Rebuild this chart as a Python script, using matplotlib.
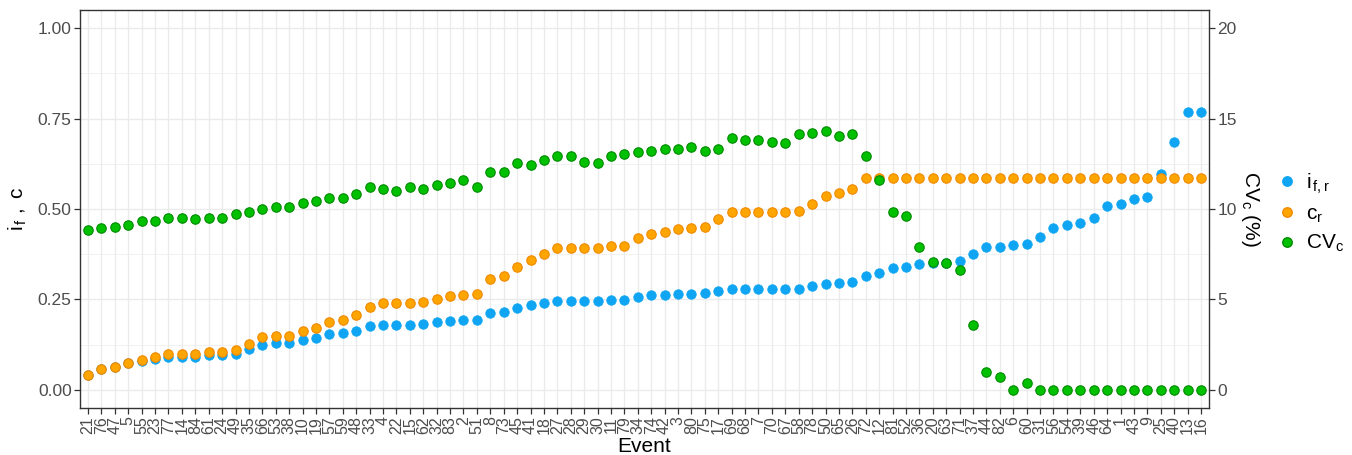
import matplotlib
matplotlib.use('Agg')
import matplotlib.pyplot as plt
from matplotlib.lines import Line2D
import numpy as np

plt.rc('font', family=['Liberation Sans', 'DejaVu Sans'])
plt.rc('mathtext', fontset='custom', rm='Liberation Sans', it='Liberation Sans', bf='Liberation Sans')

# events in plotting order
events = ['21', '76', '47', '5', '55', '23', '77', '14', '84', '61',
          '24', '49', '35', '66', '53', '38', '10', '19', '57', '59',
          '48', '33', '4', '22', '15', '62', '32', '83', '2', '51',
          '8', '73', '45', '41', '18', '27', '28', '29', '30', '11',
          '79', '34', '74', '42', '3', '80', '75', '17', '69', '68',
          '7', '70', '67', '58', '78', '50', '65', '26', '72', '12',
          '81', '52', '36', '20', '63', '71', '37', '44', '82', '6',
          '60', '31', '56', '54', '39', '46', '64', '1', '43', '9',
          '25', '40', '13', '16']

# i_f,r (left axis)
i_f = [0.041, 0.057, 0.063, 0.073, 0.079, 0.085, 0.092, 0.092, 0.092, 0.096,
       0.096, 0.099, 0.114, 0.125, 0.129, 0.129, 0.137, 0.143, 0.154, 0.157,
       0.164, 0.176, 0.180, 0.180, 0.180, 0.182, 0.188, 0.191, 0.193, 0.193,
       0.213, 0.216, 0.227, 0.235, 0.241, 0.246, 0.246, 0.246, 0.246, 0.249,
       0.249, 0.256, 0.261, 0.263, 0.265, 0.266, 0.267, 0.274, 0.280, 0.280,
       0.280, 0.280, 0.280, 0.280, 0.286, 0.293, 0.296, 0.297, 0.314, 0.323,
       0.337, 0.339, 0.349, 0.352, 0.352, 0.357, 0.375, 0.394, 0.396, 0.401,
       0.402, 0.422, 0.448, 0.456, 0.460, 0.476, 0.508, 0.513, 0.528, 0.533,
       0.597, 0.686, 0.769, 0.769]

# c_r (left axis)
c_r = [0.040, 0.057, 0.063, 0.073, 0.083, 0.090, 0.099, 0.099, 0.099, 0.104,
       0.104, 0.109, 0.128, 0.146, 0.149, 0.149, 0.163, 0.172, 0.188, 0.193,
       0.207, 0.228, 0.240, 0.240, 0.240, 0.243, 0.252, 0.259, 0.262, 0.264,
       0.306, 0.316, 0.339, 0.360, 0.377, 0.391, 0.391, 0.391, 0.391, 0.399,
       0.399, 0.419, 0.431, 0.436, 0.446, 0.447, 0.450, 0.473, 0.493, 0.493,
       0.493, 0.493, 0.493, 0.494, 0.515, 0.536, 0.545, 0.555, 0.587, 0.587,
       0.587, 0.587, 0.587, 0.587, 0.587, 0.587, 0.587, 0.587, 0.587, 0.587,
       0.587, 0.587, 0.587, 0.587, 0.587, 0.587, 0.587, 0.587, 0.587, 0.587,
       0.587, 0.587, 0.587, 0.587]

# CV_c in % (right axis)
cv_c = [8.84, 8.93, 9.02, 9.12, 9.34, 9.34, 9.52, 9.52, 9.43, 9.52,
        9.52, 9.72, 9.82, 10.02, 10.11, 10.11, 10.31, 10.43, 10.62, 10.62,
        10.83, 11.22, 11.10, 11.01, 11.22, 11.12, 11.33, 11.44, 11.62, 11.22,
        12.03, 12.03, 12.52, 12.41, 12.72, 12.93, 12.93, 12.61, 12.52, 12.93,
        13.04, 13.13, 13.22, 13.31, 13.31, 13.43, 13.22, 13.31, 13.92, 13.81,
        13.81, 13.72, 13.63, 14.13, 14.22, 14.33, 14.03, 14.13, 12.93, 11.60,
        9.82, 9.61, 7.92, 7.09, 7.00, 6.61, 3.61, 1.01, 0.72, 0.00,
        0.40, 0.00, 0.00, 0.00, 0.00, 0.00, 0.00, 0.00, 0.00, 0.00,
        0.00, 0.00, 0.00, 0.00]

blue = '#0FA5F2'
orange = '#FFA500'
orange_edge = '#F08A00'
green = '#00C000'
green_edge = '#008A00'
ms = 6.8

fig = plt.figure(figsize=(13.52, 4.55), dpi=100)
ax = fig.add_axes([80/1352, 1-408/455, 1129/1352, 398/455])
x = np.arange(len(events))

ax.plot(x, i_f, 'o', ms=ms, color=blue, mec=blue, mew=0.6, zorder=3)
ax.plot(x, c_r, 'o', ms=ms, color=orange, mec=orange_edge, mew=0.8, zorder=4)

ax.set_xlim(-0.6, len(events) - 0.4)
ax.set_ylim(-0.05, 1.05)
ax.set_xticks(x)
ax.set_xticklabels(events, rotation=90, fontsize=11.5, color='#4D4D4D')
ax.set_yticks([0, 0.25, 0.5, 0.75, 1.0])
ax.set_yticklabels(['0.00', '0.25', '0.50', '0.75', '1.00'], fontsize=12.5, color='#4D4D4D')
ax.set_yticks(np.arange(0.125, 1.0, 0.25), minor=True)
ax.grid(True, which='major', color='#EBEBEB', lw=1.0, zorder=0)
ax.grid(True, which='minor', axis='y', color='#EBEBEB', lw=0.5, zorder=0)
ax.set_axisbelow(True)
ax.tick_params(axis='both', which='major', length=4, width=0.9, color='#333333', pad=2)
ax.tick_params(axis='y', which='minor', length=0)
for s in ax.spines.values():
    s.set_color('#333333')
    s.set_linewidth(1.0)

ax.set_xlabel('Event', fontsize=15, labelpad=2)
ax.set_ylabel(r'$\mathregular{i_{\,f}\ ,\ c}$', fontsize=15, labelpad=6)

ax2 = ax.twinx()
ax2.plot(x, cv_c, 'o', ms=ms, color=green, mec=green_edge, mew=0.8, zorder=5)
ax2.set_ylim(-1, 21)
ax2.set_yticks([0, 5, 10, 15, 20])
ax2.set_yticklabels(['0', '5', '10', '15', '20'], fontsize=12.5, color='#4D4D4D')
ax2.tick_params(axis='y', length=4, width=0.9, color='#333333', pad=2)
ax2.set_ylabel(r'$\mathregular{CV_c\ (\%)}$', fontsize=15, rotation=270, labelpad=18)
for s in ax2.spines.values():
    s.set_visible(False)

handles = [Line2D([], [], ls='none', marker='o', ms=ms, color=blue, mec=blue),
           Line2D([], [], ls='none', marker='o', ms=ms, color=orange, mec=orange_edge),
           Line2D([], [], ls='none', marker='o', ms=ms, color=green, mec=green_edge)]
labels = [r'$\mathregular{i_{\,f,r}}$', r'$\mathregular{c_r}$', r'$\mathregular{CV_c}$']
fig.legend(handles, labels, loc='center left', bbox_to_anchor=(1266/1352, 1-213/455),
           frameon=False, fontsize=15, handletextpad=0.3, labelspacing=0.4,
           handlelength=1.2, borderaxespad=0)

plt.savefig('out.png', dpi=100)
